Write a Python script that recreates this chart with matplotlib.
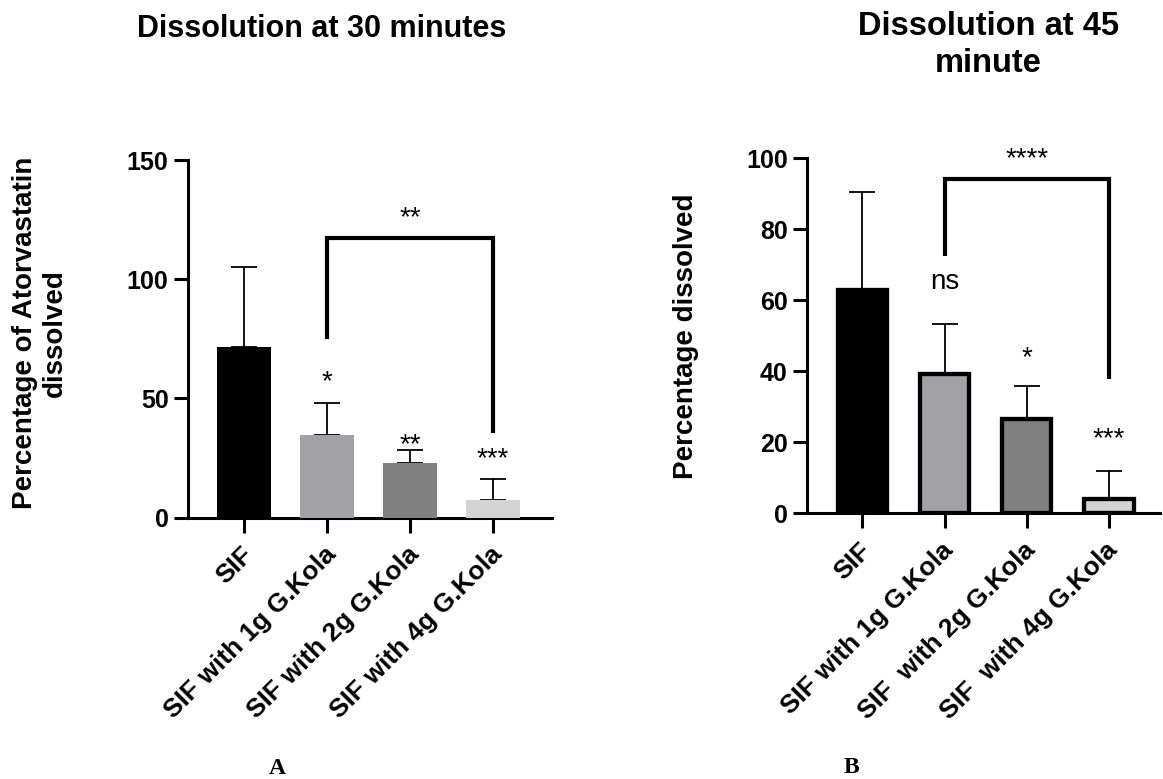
import matplotlib
matplotlib.use("Agg")
import matplotlib.pyplot as plt
from matplotlib.transforms import ScaledTranslation
import numpy as np

plt.rcParams['font.family'] = ['Liberation Sans', 'DejaVu Sans']

# ---------------- data ----------------
categories_a = ["SIF", "SIF with 1g G.Kola", "SIF with 2g G.Kola", "SIF with 4g G.Kola"]
categories_b = ["SIF", "SIF with 1g G.Kola", "SIF  with 2g G.Kola", "SIF  with 4g G.Kola"]

means_30 = [71.7, 34.5, 23.1, 7.3]
sd_30 = [33.5, 13.7, 5.3, 8.9]
sig_30 = ["", "*", "**", "***"]

means_45 = [62.8, 39.2, 26.6, 4.0]
sd_45 = [27.7, 14.1, 9.3, 7.9]
sig_45 = ["", "ns", "*", "***"]

colors = ["#000000", "#a2a2a6", "#808080", "#d4d4d4"]

yticks_a = [0, 50, 100, 150]
yticks_b = [0, 20, 40, 60, 80, 100]

fig = plt.figure(figsize=(11.63, 7.79), dpi=100)

axA = fig.add_axes([188/1163, 1-517.7/779, (552-188)/1163, (517.7-160)/779])
axB = fig.add_axes([807.3/1163, 1-513.3/779, (1160-807.3)/1163, (513.3-158.3)/779])


def style_axes(ax, labels, yticks, ylim, xlim):
    x = np.arange(len(labels))
    ax.set_xlim(*xlim)
    ax.set_ylim(*ylim)
    ax.set_yticks(yticks)
    for s in ("top", "right"):
        ax.spines[s].set_visible(False)
    for s in ("left", "bottom"):
        ax.spines[s].set_linewidth(2.2)
    ax.tick_params(axis="both", length=10, width=2.2, labelsize=18)
    ax.tick_params(axis="y", pad=4)
    ax.tick_params(axis="x", length=11, pad=13)
    ax.set_xticks(x)
    ax.set_xticklabels(labels, rotation=45, ha="right", va="center",
                       rotation_mode="anchor", fontsize=19, fontweight="bold")
    for lab in ax.get_yticklabels():
        lab.set_fontweight("bold")
    off = ScaledTranslation(5/100, 0, fig.dpi_scale_trans)
    for lab in ax.get_xticklabels():
        lab.set_transform(lab.get_transform() + off)
    return x


# ---------------- panel A ----------------
xA = style_axes(axA, categories_a, yticks_a, (0, 150), (-0.675, 3.71))
axA.bar(xA, means_30, width=0.66, color=colors, edgecolor="none", zorder=3)
axA.errorbar(xA, means_30, yerr=[np.zeros(4), sd_30], fmt="none", ecolor="black",
             elinewidth=1.3, capsize=9.4, capthick=1.3, zorder=2)
axA.plot([1, 1, 3, 3], [74.8, 117.1, 117.1, 35.4], color="black", lw=3,
         solid_joinstyle="miter", solid_capstyle="butt", zorder=4, clip_on=False)
axA.text(2, 122.6, "**", ha="center", va="baseline", fontsize=20)
for xi, s, yb in zip(xA, sig_30, [0, 54.0, 27.6, 21.4]):
    if s:
        axA.text(xi, yb, s, ha="center", va="baseline", fontsize=20)

# ---------------- panel B ----------------
xB = style_axes(axB, categories_b, yticks_b, (0, 100), (-0.67, 3.62))
axB.bar(xB, means_45, width=0.6, color=colors, edgecolor="black", linewidth=3.1, zorder=3)
axB.errorbar(xB, means_45, yerr=[np.zeros(4), sd_45], fmt="none", ecolor="black",
             elinewidth=1.3, capsize=9.4, capthick=1.3, zorder=2)
axB.plot([1, 1, 3, 3], [72.6, 94.1, 94.1, 37.7], color="black", lw=3,
         solid_joinstyle="miter", solid_capstyle="butt", zorder=4, clip_on=False)
axB.text(2, 97.8, "****", ha="center", va="baseline", fontsize=20, clip_on=False)
for xi, s, yb in zip(xB, sig_45, [0, 63.1, 41.8, 19.0]):
    if s:
        axB.text(xi, yb, s, ha="center", va="baseline", fontsize=20)

# ---------------- titles / labels ----------------
fig.text(322/1163, 1-37/779, "Dissolution at 30 minutes", ha="center", va="baseline",
         fontsize=22, fontweight="bold")
fig.text(988/1163, 1-35/779, "Dissolution at 45", ha="center", va="baseline",
         fontsize=23.5, fontweight="bold")
fig.text(988/1163, 1-71.7/779, "minute", ha="center", va="baseline",
         fontsize=23.5, fontweight="bold")

fig.text(40/1163, 1-333/779, "Percentage of Atorvastatin\ndissolved", rotation=90,
         ha="center", va="center", multialignment="center", fontsize=20, fontweight="bold")
fig.text(686/1163, 1-336/779, "Percentage dissolved", rotation=90,
         ha="center", va="center", fontsize=20, fontweight="bold")

fig.text(277/1163, 1-774.3/779, "A", ha="center", va="baseline", fontsize=17,
         fontweight="bold", family="Liberation Serif")
fig.text(851.7/1163, 1-773/779, "B", ha="center", va="baseline", fontsize=17,
         fontweight="bold", family="Liberation Serif")

fig.savefig("out.png", dpi=100)
